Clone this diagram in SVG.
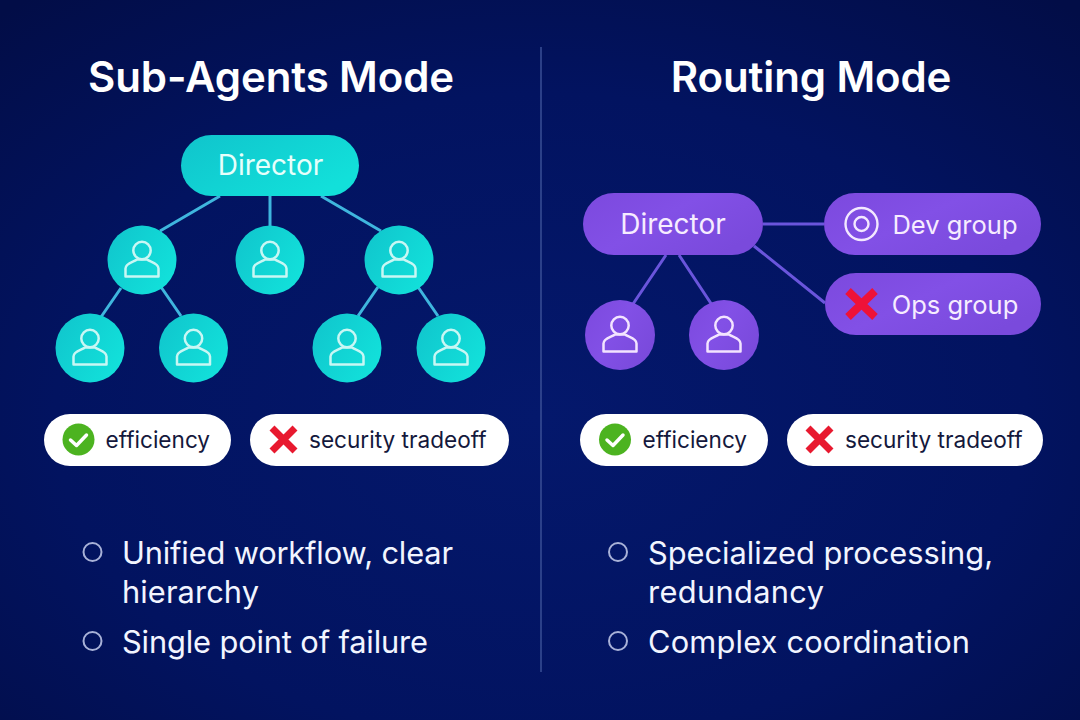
<svg xmlns="http://www.w3.org/2000/svg" width="1080" height="720" viewBox="0 0 1080 720">
<style>
text{font-family:Inter,"Liberation Sans",sans-serif}
.title{font-size:42px;font-weight:600;fill:#fff;text-anchor:middle;letter-spacing:-0.1px}
.node{font-size:28px;font-weight:400;text-anchor:middle}
.grp{font-size:25.5px;font-weight:400;text-anchor:middle}
.pill{font-size:22.6px;fill:#14183c}
.bul{font-size:30.8px;fill:#f2f5ff}
.dot{fill:none;stroke:#a9b2d8;stroke-width:2}
.teal{fill:url(#teal)}
.purple{fill:url(#purple)}
.white{fill:#fff}
.ct{stroke:#3fb6de;stroke-width:3;fill:none}
.cp{stroke:#6a55dc;stroke-width:3;fill:none}
.x{stroke:#e8192f;stroke-width:7;fill:none}
.ck{stroke:#fff;stroke-width:3.5;fill:none;stroke-linecap:round;stroke-linejoin:round}
.pi{fill:none;stroke-width:2.500;stroke-linejoin:round}
</style>
<defs>
<radialGradient id="bg" cx="50%" cy="58%" r="75%"><stop offset="0" stop-color="#04186c"/><stop offset="0.6" stop-color="#021360"/><stop offset="1" stop-color="#020d47"/></radialGradient>
<linearGradient id="teal" x1="0" y1="0" x2="1" y2="0.6"><stop offset="0" stop-color="#10c4cc"/><stop offset="1" stop-color="#12e0da"/></linearGradient>
<linearGradient id="purple" x1="0" y1="0" x2="1" y2="0.6"><stop offset="0" stop-color="#7c49de"/><stop offset="0.5" stop-color="#8250e6"/><stop offset="1" stop-color="#7a4adc"/></linearGradient>
<g id="person"><circle cx="0" cy="-9.500" r="8.700"/><path d="M-16.500 16.500V8.500C-16.500 3-8 2-5 -0.500H5C8 2 16.500 3 16.500 8.500V16.500Z"/></g>
</defs>
<rect width="1080" height="720" fill="url(#bg)"/>
<line x1="541" y1="47" x2="541" y2="672" stroke="#3a4f96" stroke-width="1.500"/>
<text class="title" x="271" y="92">Sub-Agents Mode</text>
<text class="title" x="811" y="92">Routing Mode</text>
<g id="connectors">
<path class="ct" d="M220 196L160 231M270 196V227M321 196L381 231M121 288L101 317M161 287L181 316M378 287L358 316M418 287L438 316"/>
<path class="cp" d="M763 224H824M754 246L825 303M666 255L633 304M679 255L712 305"/>
</g>
<g id="left-director"><rect class="teal" x="181" y="135" width="178" height="61" rx="30.500"/><text class="node" x="270.500" y="175" fill="#e6fffb">Director</text></g>
<g id="left-agent-1"><circle class="teal" cx="142" cy="260" r="34.500"/><use href="#person" x="142" y="260" class="pi" stroke="#c8f7f4"/></g>
<g id="left-agent-2"><circle class="teal" cx="270" cy="260" r="34.500"/><use href="#person" x="270" y="260" class="pi" stroke="#c8f7f4"/></g>
<g id="left-agent-3"><circle class="teal" cx="399" cy="260" r="34.500"/><use href="#person" x="399" y="260" class="pi" stroke="#c8f7f4"/></g>
<g id="left-agent-4"><circle class="teal" cx="90" cy="348" r="34.500"/><use href="#person" x="90" y="348" class="pi" stroke="#c8f7f4"/></g>
<g id="left-agent-5"><circle class="teal" cx="193.500" cy="348" r="34.500"/><use href="#person" x="193.500" y="348" class="pi" stroke="#c8f7f4"/></g>
<g id="left-agent-6"><circle class="teal" cx="347" cy="348" r="34.500"/><use href="#person" x="347" y="348" class="pi" stroke="#c8f7f4"/></g>
<g id="left-agent-7"><circle class="teal" cx="451" cy="348" r="34.500"/><use href="#person" x="451" y="348" class="pi" stroke="#c8f7f4"/></g>
<g id="left-efficiency"><rect class="white" x="44" y="414" width="187" height="52" rx="26"/><circle cx="78.500" cy="439.500" r="16" fill="#4cb320"/><path class="ck" d="M70.500 440L76.500 445.500L86.500 435"/><text class="pill" x="105.500" y="448">efficiency</text></g>
<g id="left-security"><rect class="white" x="250" y="414" width="259" height="52" rx="26"/><path class="x" d="M272 428L295 451M295 428L272 451"/><text class="pill" x="309" y="448">security tradeoff</text></g>
<g id="right-director"><rect class="purple" x="583" y="193" width="180" height="62" rx="31"/><text class="node" x="673" y="234" fill="#f6ecff">Director</text></g>
<g id="dev-group"><rect class="purple" x="824" y="193" width="217" height="62" rx="31"/><circle cx="861.500" cy="224" r="16" fill="none" stroke="#f3e8ff" stroke-width="2.400"/><circle cx="861.500" cy="224" r="7" fill="none" stroke="#f3e8ff" stroke-width="2.400"/><text class="grp" x="955" y="233.500" fill="#f6ecff">Dev group</text></g>
<g id="ops-group"><rect class="purple" x="825" y="273" width="216" height="62" rx="31"/><path d="M848 291L875 317M875 291L848 317" stroke="#ee1238" stroke-width="8" fill="none"/><text class="grp" x="955" y="313.500" fill="#f6ecff">Ops group</text></g>
<g id="right-agent-1"><circle class="purple" cx="620" cy="335" r="35"/><use href="#person" x="620" y="335" class="pi" stroke="#f3e4ff"/></g>
<g id="right-agent-2"><circle class="purple" cx="724" cy="335" r="35"/><use href="#person" x="724" y="335" class="pi" stroke="#f3e4ff"/></g>
<g id="right-efficiency"><rect class="white" x="580" y="414" width="188" height="52" rx="26"/><circle cx="615" cy="439.500" r="16" fill="#4cb320"/><path class="ck" d="M607 440L613 445.500L623 435"/><text class="pill" x="642.500" y="448">efficiency</text></g>
<g id="right-security"><rect class="white" x="787" y="414" width="256" height="52" rx="26"/><path class="x" d="M808 428L831 451M831 428L808 451"/><text class="pill" x="845" y="448">security tradeoff</text></g>
<g id="left-list">
<circle class="dot" cx="92.500" cy="552" r="9"/><text class="bul" x="122" y="564" textLength="331">Unified workflow, clear</text><text class="bul" x="122" y="603" textLength="137">hierarchy</text>
<circle class="dot" cx="92.500" cy="641" r="9"/><text class="bul" x="122" y="653" textLength="306">Single point of failure</text>
</g>
<g id="right-list">
<circle class="dot" cx="618" cy="552" r="9"/><text class="bul" x="648" y="564" textLength="345">Specialized processing,</text><text class="bul" x="648" y="603" textLength="176">redundancy</text>
<circle class="dot" cx="618" cy="641" r="9"/><text class="bul" x="648" y="653" textLength="322">Complex coordination</text>
</g>
</svg>
